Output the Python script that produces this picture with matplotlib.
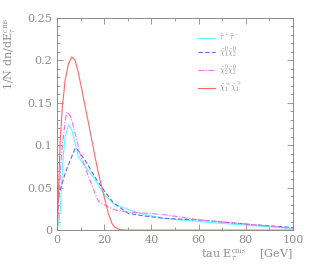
import matplotlib
matplotlib.use("Agg")
import matplotlib.pyplot as plt
from matplotlib.ticker import MultipleLocator

# Data
x_stau = [0, 0.85, 1.3, 2.0, 2.7, 3.4, 4.8, 6.2, 7.6, 9.0, 11.9, 16.1, 20.3, 23.9, 30.2, 37.3, 45.8, 60.6, 81.8, 100]
y_stau = [0, 0.012, 0.022, 0.059, 0.090, 0.110, 0.124, 0.118, 0.102, 0.086, 0.075, 0.059, 0.041, 0.031, 0.024, 0.018, 0.0137, 0.0098, 0.0055, 0.002]

x_n1n2 = [0, 0.5, 1.3, 3.4, 5.5, 7.6, 8.3, 11.9, 16.1, 20.3, 23.9, 30.2, 37.3, 45.8, 60.6, 81.8, 100]
y_n1n2 = [0, 0.039, 0.047, 0.067, 0.082, 0.096, 0.096, 0.082, 0.062, 0.045, 0.032, 0.0196, 0.0165, 0.0137, 0.0118, 0.0067, 0.003]

x_n2n2 = [0, 0.7, 2.0, 3.4, 4.1, 5.5, 6.9, 8.3, 9.7, 13.3, 16.1, 17.5, 20.3, 24.6, 30.2, 37.3, 45.8, 60.6, 81.8, 100]
y_n2n2 = [0, 0.036, 0.094, 0.128, 0.139, 0.135, 0.122, 0.106, 0.090, 0.063, 0.043, 0.034, 0.029, 0.0236, 0.021, 0.020, 0.018, 0.0118, 0.0067, 0.002]

x_c1c1 = [0, 0.5, 1.3, 2.2, 3.4, 4.8, 6.2, 7.6, 9.0, 10.5, 11.9, 13.3, 14.7, 16.1, 17.5, 19.6, 21.7, 23.2, 24.6, 26.5, 29, 40, 60, 80, 100]
y_c1c1 = [0, 0.04, 0.106, 0.145, 0.177, 0.196, 0.204, 0.200, 0.185, 0.165, 0.145, 0.126, 0.106, 0.086, 0.067, 0.043, 0.0196, 0.008, 0.003, 0.0005, 0.0, 0.0, 0.0, 0.0, 0.0]

labels = [r'$\tilde{\tau}^+\tilde{\tau}^-$',
          r'$\tilde{\chi}^0_1\tilde{\chi}^0_2$',
          r'$\tilde{\chi}^0_2\tilde{\chi}^0_2$',
          r'$\tilde{\chi}^\pm_1\tilde{\chi}^\mp_1$']

gray = '#8c8c8c'
plt.rcParams['font.family'] = ['DejaVu Serif']
plt.rcParams['mathtext.fontset'] = 'cm'

fig = plt.figure(figsize=(3.14, 2.66), dpi=100)
ax = fig.add_axes([0.182, 0.135, 0.751, 0.798])

ax.plot(x_stau, y_stau, color='#55ffff', lw=0.8, ls='-', label=labels[0])
ax.plot(x_n1n2, y_n1n2, color='#6666ff', lw=0.8, ls=(0, (4, 2)), label=labels[1])
ax.plot(x_n2n2, y_n2n2, color='#ff66ff', lw=0.8, ls=(0, (5, 1.5, 1, 1.5)), label=labels[2])
ax.plot(x_c1c1, y_c1c1, color='#ff6666', lw=0.8, ls='-', label=labels[3])

ax.set_xlim(0, 100)
ax.set_ylim(0, 0.25)
ax.xaxis.set_minor_locator(MultipleLocator(10))
ax.yaxis.set_minor_locator(MultipleLocator(0.01))
ax.set_xticks([0, 20, 40, 60, 80, 100])
ax.set_xticklabels(['0', '20', '40', '60', '80', '100'])
ax.set_yticks([0, 0.05, 0.1, 0.15, 0.2, 0.25])
ax.set_yticklabels(['0', '0.05', '0.1', '0.15', '0.2', '0.25'])
ax.tick_params(which='both', direction='in', top=True, right=True, colors=gray,
               labelcolor=gray, labelsize=8, width=0.6)
ax.tick_params(which='major', length=4)
ax.tick_params(which='minor', length=2)
for s in ax.spines.values():
    s.set_color(gray)
    s.set_linewidth(0.7)

ax.set_xlabel(r'tau E$_\tau^{\rm cms}$    [GeV]', color=gray, fontsize=8, loc='right', labelpad=2)
ax.set_ylabel(r'1/N dn/dE$_\tau^{\rm cms}$', color=gray, fontsize=8, loc='top')
ax.yaxis.set_label_coords(-0.165, 1.0)

leg = ax.legend(loc='upper left', bbox_to_anchor=(0.57, 0.97), frameon=False,
                fontsize=5.5, handlelength=2.2, handletextpad=0.5, labelspacing=0.35)
for t in leg.get_texts():
    t.set_color(gray)

fig.savefig('out.png', dpi=100)
